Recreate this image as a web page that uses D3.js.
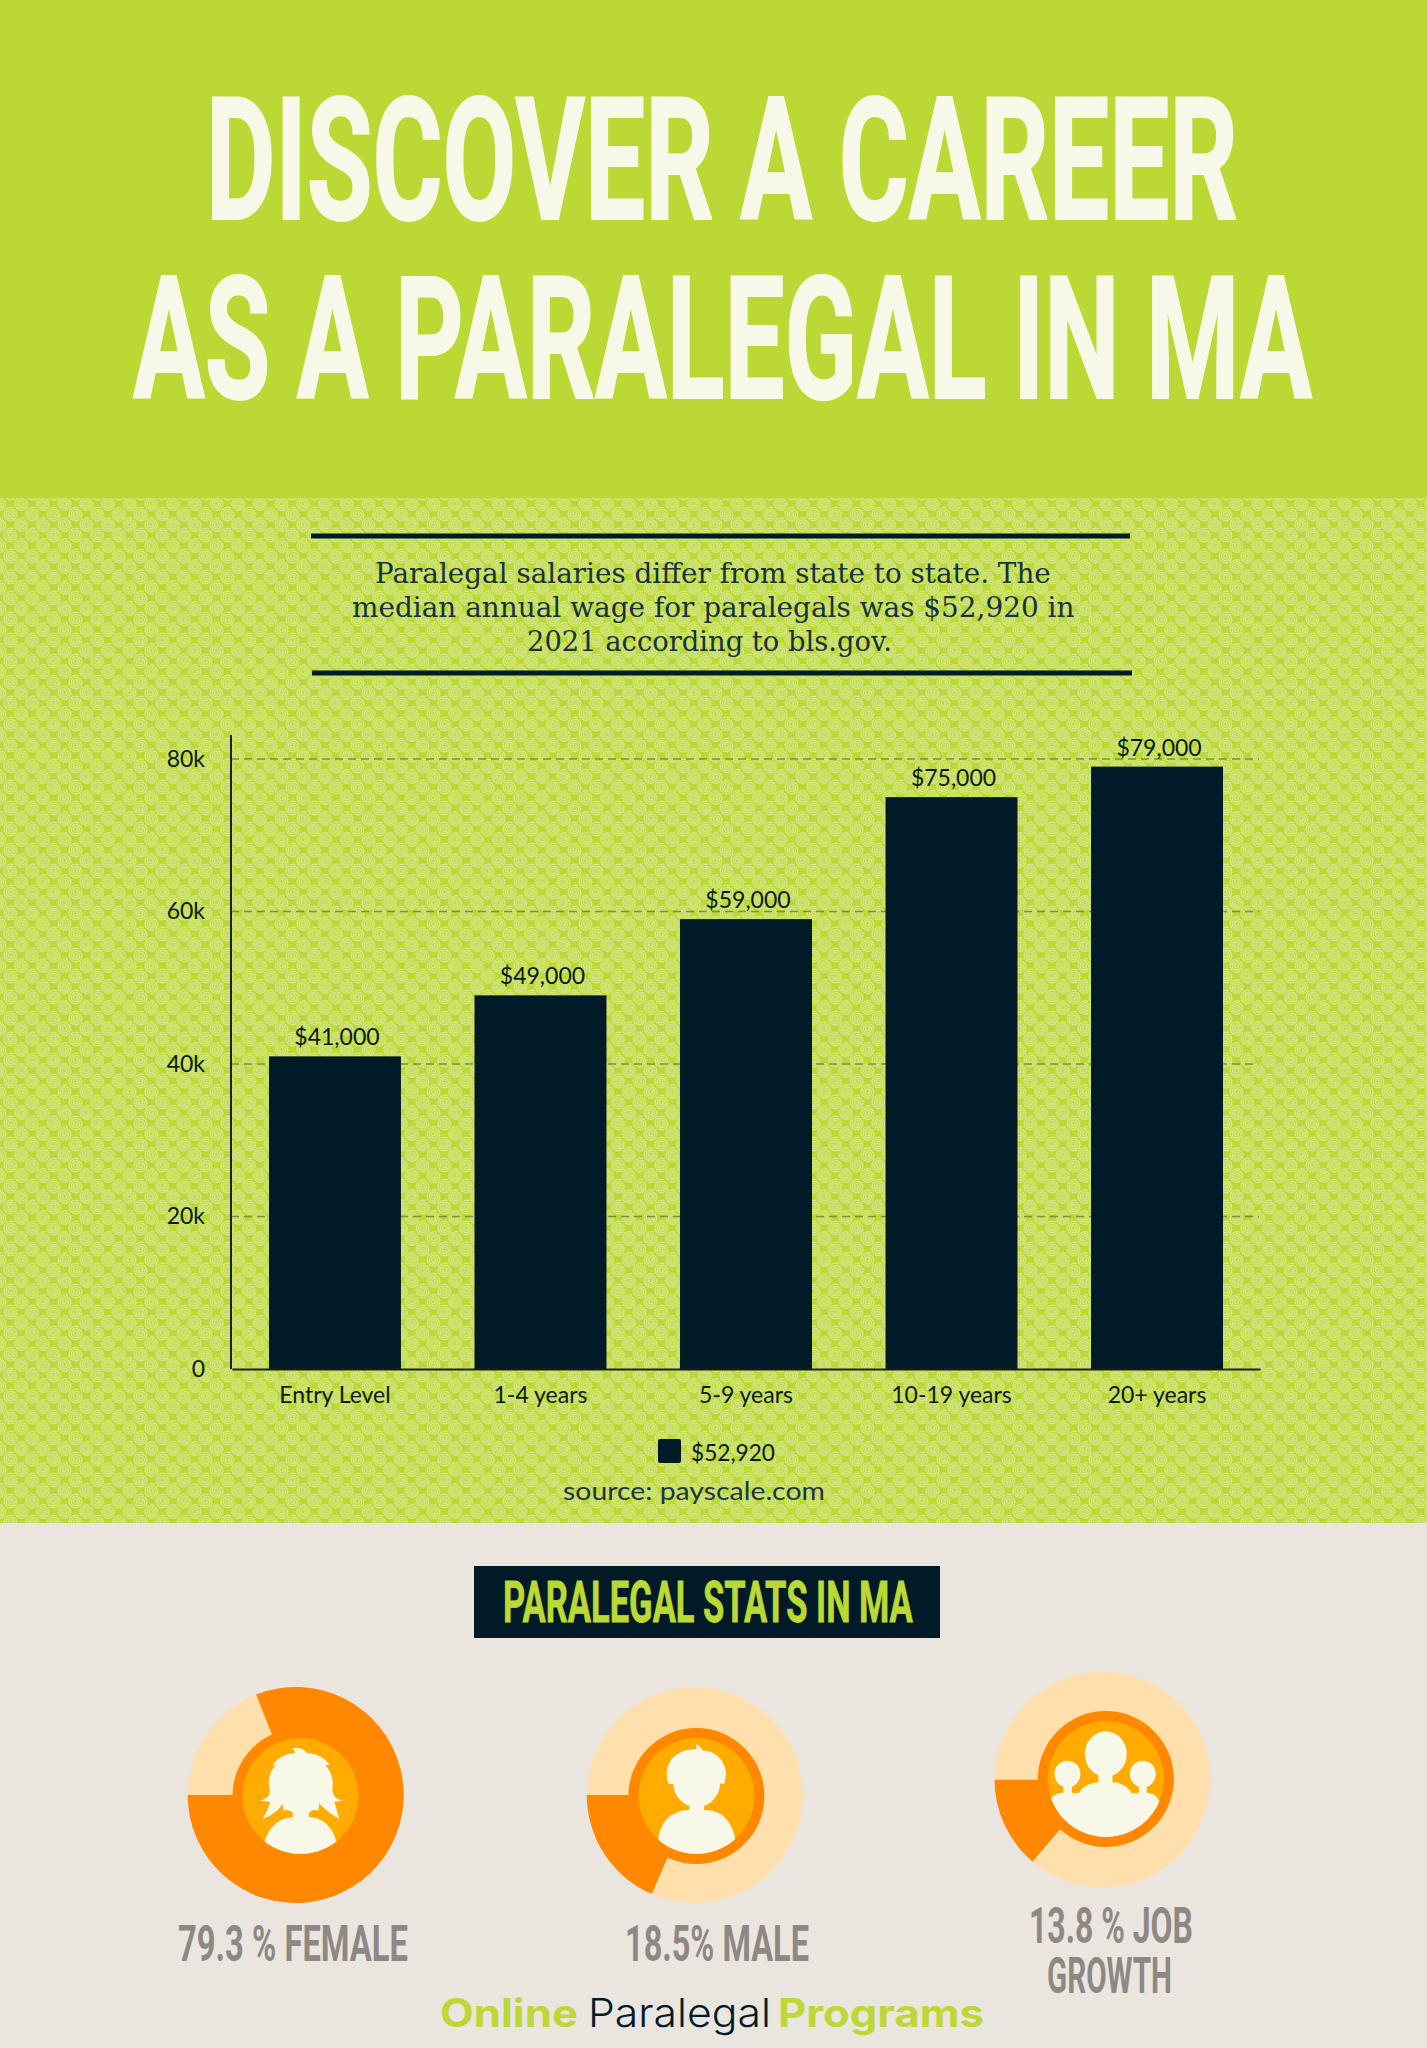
<!DOCTYPE html>
<html>
<head>
<meta charset="utf-8">
<script src="https://cdn.jsdelivr.net/npm/d3@7"></script>
<style>
  html, body { margin: 0; padding: 0; background: #eae5df; }
  svg { display: block; }
  .condensed { font-family: 'Liberation Sans Narrow', 'Roboto', sans-serif; font-weight: 700; }
  .lato { font-family: Lato, sans-serif; }
  .intro { font-family: 'DejaVu Serif', serif; font-weight: 300; }
  .logo-bold { font-family: Inter, sans-serif; font-weight: 700; }
  .logo-light { font-family: Inter, sans-serif; font-weight: 300; }
  .axis .domain { stroke: #16240f; stroke-width: 2; }
  .axis text { font-family: Lato, sans-serif; font-size: 23px; fill: #0b1a12; }
</style>
</head>
<body>
<svg id="chart" width="1427" height="2048"></svg>
<script>
const categories = ['Entry Level', '1-4 years', '5-9 years', '10-19 years', '20+ years'];
const salaries = [41000, 49000, 59000, 75000, 79000];
const yTicks = [0, 20000, 40000, 60000, 80000];
const legendLabel = '$52,920';
const statShares = [81, 18.5, 13.8];

const navy = '#011a27', green = '#bbd835', paper = '#eae5df', ivory = '#f8f8e9';
const orange = '#ff8800', peach = '#ffdfab', amber = '#ffab00', grey = '#8e8885';

const svg = d3.select('#chart');

// fits a line between two x's, the fonts here are not the original ones
const fitText = (g, str, x0, x1, y, size, cls, fill) => {
  const t = g.append('text')
    .attr('class', cls)
    .attr('transform', `translate(${x0},${y})`)
    .style('font-size', size + 'px')
    .style('fill', fill)
    .text(str);
  const w = t.node().getComputedTextLength();
  t.attr('transform', `translate(${x0},${y}) scale(${(x1 - x0) / w},1)`);
  return t;
};

// swirl tile for the green band
const defs = svg.append('defs');
const tile = defs.append('pattern')
  .attr('id', 'swirl')
  .attr('patternUnits', 'userSpaceOnUse')
  .attr('width', 21.7)
  .attr('height', 21);
tile.append('rect').attr('width', 21.7).attr('height', 21).attr('fill', green);
const swirlLine = d3.lineRadial().curve(d3.curveCatmullRom);
const swirlPts = d3.range(0, 36).map((i) => [i * 0.55, 0.8 + i * 0.19]);
[[0, 0], [21.7, 0], [0, 21], [21.7, 21], [10.85, 10.5]].forEach(([cx, cy]) => {
  tile.append('path')
    .attr('transform', `translate(${cx},${cy})`)
    .attr('d', swirlLine(swirlPts))
    .attr('fill', 'none')
    .attr('stroke', '#d6e68a')
    .attr('stroke-width', 1.4);
});

// bands
svg.append('rect').attr('width', 1427).attr('height', 498).attr('fill', green);
svg.append('rect').attr('y', 498).attr('width', 1427).attr('height', 1025).attr('fill', 'url(#swirl)');
svg.append('rect').attr('y', 1523).attr('width', 1427).attr('height', 525).attr('fill', paper);

// title
const titleLines = [
  fitText(svg, 'DISCOVER A CAREER', 206, 1238, 219, 170, 'condensed', ivory),
  fitText(svg, 'AS A PARALEGAL IN MA', 133, 1312, 398, 170, 'condensed', ivory)
];
titleLines.forEach((t) => t.style('stroke', ivory).style('stroke-width', 2));

// intro block
svg.append('rect').attr('x', 311).attr('y', 533.5).attr('width', 819).attr('height', 5).attr('fill', navy);
svg.append('rect').attr('x', 312).attr('y', 670.5).attr('width', 820).attr('height', 5).attr('fill', navy);
fitText(svg, 'Paralegal salaries differ from state to state. The', 375, 1051, 583, 28, 'intro', '#16323b');
fitText(svg, 'median annual wage for paralegals was $52,920 in', 352, 1075, 617, 28, 'intro', '#16323b');
fitText(svg, '2021 according to bls.gov.', 527, 892, 650.5, 28, 'intro', '#16323b');

// bar chart
const x = d3.scaleBand().domain(categories).range([232, 1260]).paddingInner(0.358).paddingOuter(0.18);
const y = d3.scaleLinear().domain([0, 80000]).range([1369, 759]);

svg.append('g')
  .selectAll('line')
  .data(yTicks.filter((d) => d > 0))
  .join('line')
  .attr('x1', 231)
  .attr('x2', 1259)
  .attr('y1', (d) => y(d))
  .attr('y2', (d) => y(d))
  .attr('stroke', '#7a9236')
  .attr('stroke-width', 1.3)
  .attr('stroke-dasharray', '8 5');

svg.append('g')
  .selectAll('rect')
  .data(salaries)
  .join('rect')
  .attr('x', (d, i) => x(categories[i]))
  .attr('y', (d) => y(d))
  .attr('width', x.bandwidth())
  .attr('height', (d) => y(0) - y(d))
  .attr('fill', navy);

svg.append('g')
  .selectAll('text')
  .data(salaries)
  .join('text')
  .attr('class', 'lato')
  .attr('x', (d, i) => x(categories[i]) + x.bandwidth() / 2 + 2)
  .attr('y', (d) => y(d) - 11)
  .attr('text-anchor', 'middle')
  .style('font-size', '23px')
  .style('fill', '#0b1a12')
  .text((d) => '$' + d3.format(',')(d));

const yAxis = d3.axisLeft(y)
  .tickValues(yTicks)
  .tickSize(0)
  .tickPadding(26)
  .tickFormat((d) => (d === 0 ? '0' : d / 1000 + 'k'));
const yG = svg.append('g').attr('class', 'axis').attr('transform', 'translate(231,0)').call(yAxis);
yG.select('.domain').attr('d', 'M0,735V1369');

const xAxis = d3.axisBottom(x).tickSize(0).tickPadding(18);
svg.append('g').attr('class', 'axis').attr('transform', 'translate(0,1369)').call(xAxis);

// legend and source
svg.append('rect').attr('x', 658).attr('y', 1439).attr('width', 23).attr('height', 24).attr('rx', 2).attr('fill', navy);
fitText(svg, legendLabel, 691, 775, 1461, 23, 'lato', '#0b1a12');
fitText(svg, 'source: payscale.com', 563, 825, 1500, 25, 'lato', '#1d3540');

// stats heading
svg.append('rect').attr('x', 474).attr('y', 1566).attr('width', 466).attr('height', 72).attr('fill', navy);
fitText(svg, 'PARALEGAL STATS IN MA', 503, 913, 1622, 57, 'condensed', green)
  .style('stroke', green)
  .style('stroke-width', 0.8);

// icons, drawn at 3x around the middle of the amber disc
const femaleIcon = 'M-26,-143 C-6,-150 14,-138 21,-128 C49,-128 74,-113 87,-93 L74,-93 C94,-73 99,-48 96,-23 C94,-3 107,10 127,14 L101,17 C107,32 111,52 117,69 C94,57 69,37 56,22 L54,44 C44,40 31,42 25,52 L25,64 C69,64 99,97 109,142 L109,200 L-111,200 L-107,137 C-96,97 -66,64 -23,64 L-23,52 C-31,42 -41,40 -51,44 L-54,24 C-66,44 -89,60 -114,69 C-103,52 -96,32 -91,17 L-121,14 C-101,10 -89,-3 -93,-23 C-99,-48 -93,-73 -76,-90 L-84,-93 C-71,-113 -46,-128 -16,-130 C-18,-136 -21,-140 -26,-143 Z';
const maleIcon = 'M-2,-156 C9,-153 16,-143 19,-136 C51,-138 86,-113 89,-68 C89,-56 86,-46 83,-36 L71,-38 C71,-8 51,20 23,30 L23,42 C71,40 106,72 116,127 L116,200 L-114,200 L-114,127 C-107,72 -69,42 -21,42 L-21,30 C-49,20 -69,-8 -69,-36 L-84,-36 C-91,-58 -91,-78 -84,-93 C-74,-123 -39,-143 1,-140 C1,-146 -1,-151 -2,-156 Z';
const groupIcon = 'M-63,-75 a63,68 0 1 1 126,0 a63,68 0 1 1 -126,0 Z '
  + 'M-22,-20 H20 V20 H-22 Z '
  + 'M-154,-15 a39,40 0 1 1 78,0 a39,40 0 1 1 -78,0 Z '
  + 'M72,-15 a39,40 0 1 1 78,0 a39,40 0 1 1 -78,0 Z '
  + 'M-127,15 H-102 V45 H-127 Z M99,15 H123 V45 H99 Z '
  + 'M-167,60 C-155,45 -140,41 -127,41 L-100,41 L-82,43 C-67,18 -37,10 -22,10 L20,10 C43,10 68,23 78,43 L99,41 L123,41 C140,41 155,50 162,70 L163,200 L-167,200 Z';

const stats = [
  { share: statShares[0], cx: 295.7, cy: 1795, rx: 300.5, ry: 1796, icon: femaleIcon },
  { share: statShares[1], cx: 694.8, cy: 1795, rx: 696.4, ry: 1796, icon: maleIcon },
  { share: statShares[2], cx: 1102.5, cy: 1779.5, rx: 1105.8, ry: 1779, icon: groupIcon }
];
const pie = d3.pie().sort(null).startAngle(-Math.PI / 2).endAngle(-Math.PI / 2 - 2 * Math.PI);
const arc = d3.arc().innerRadius(40).outerRadius(108);

stats.forEach((s, i) => {
  const g = svg.append('g');
  g.append('g')
    .attr('transform', `translate(${s.cx},${s.cy})`)
    .selectAll('path')
    .data(pie([s.share, 100 - s.share]))
    .join('path')
    .attr('d', arc)
    .attr('fill', (d, j) => (j === 0 ? orange : peach));
  g.append('circle').attr('cx', s.rx).attr('cy', s.ry).attr('r', 68).attr('fill', orange);
  g.append('circle').attr('cx', s.rx).attr('cy', s.ry).attr('r', 58).attr('fill', amber);
  defs.append('clipPath').attr('id', 'disc' + i)
    .append('circle').attr('r', 174);
  g.append('g')
    .attr('transform', `translate(${s.rx},${s.ry}) scale(${1 / 3})`)
    .attr('clip-path', `url(#disc${i})`)
    .append('path')
    .attr('d', s.icon)
    .attr('fill', ivory);
});

// stat labels
fitText(svg, '79.3 % FEMALE', 178, 408, 1961, 50, 'condensed', grey);
fitText(svg, '18.5% MALE', 625, 809, 1961, 50, 'condensed', grey);
fitText(svg, '13.8 % JOB', 1029, 1193, 1943, 50, 'condensed', grey);
fitText(svg, 'GROWTH', 1047, 1172, 1993, 50, 'condensed', grey);

// logo
fitText(svg, 'Online', 440, 578, 2027, 39, 'logo-bold', green);
fitText(svg, 'Paralegal', 588, 771, 2027, 39, 'logo-light', navy);
fitText(svg, 'Programs', 778, 984, 2027, 39, 'logo-bold', green);
</script>
</body>
</html>
